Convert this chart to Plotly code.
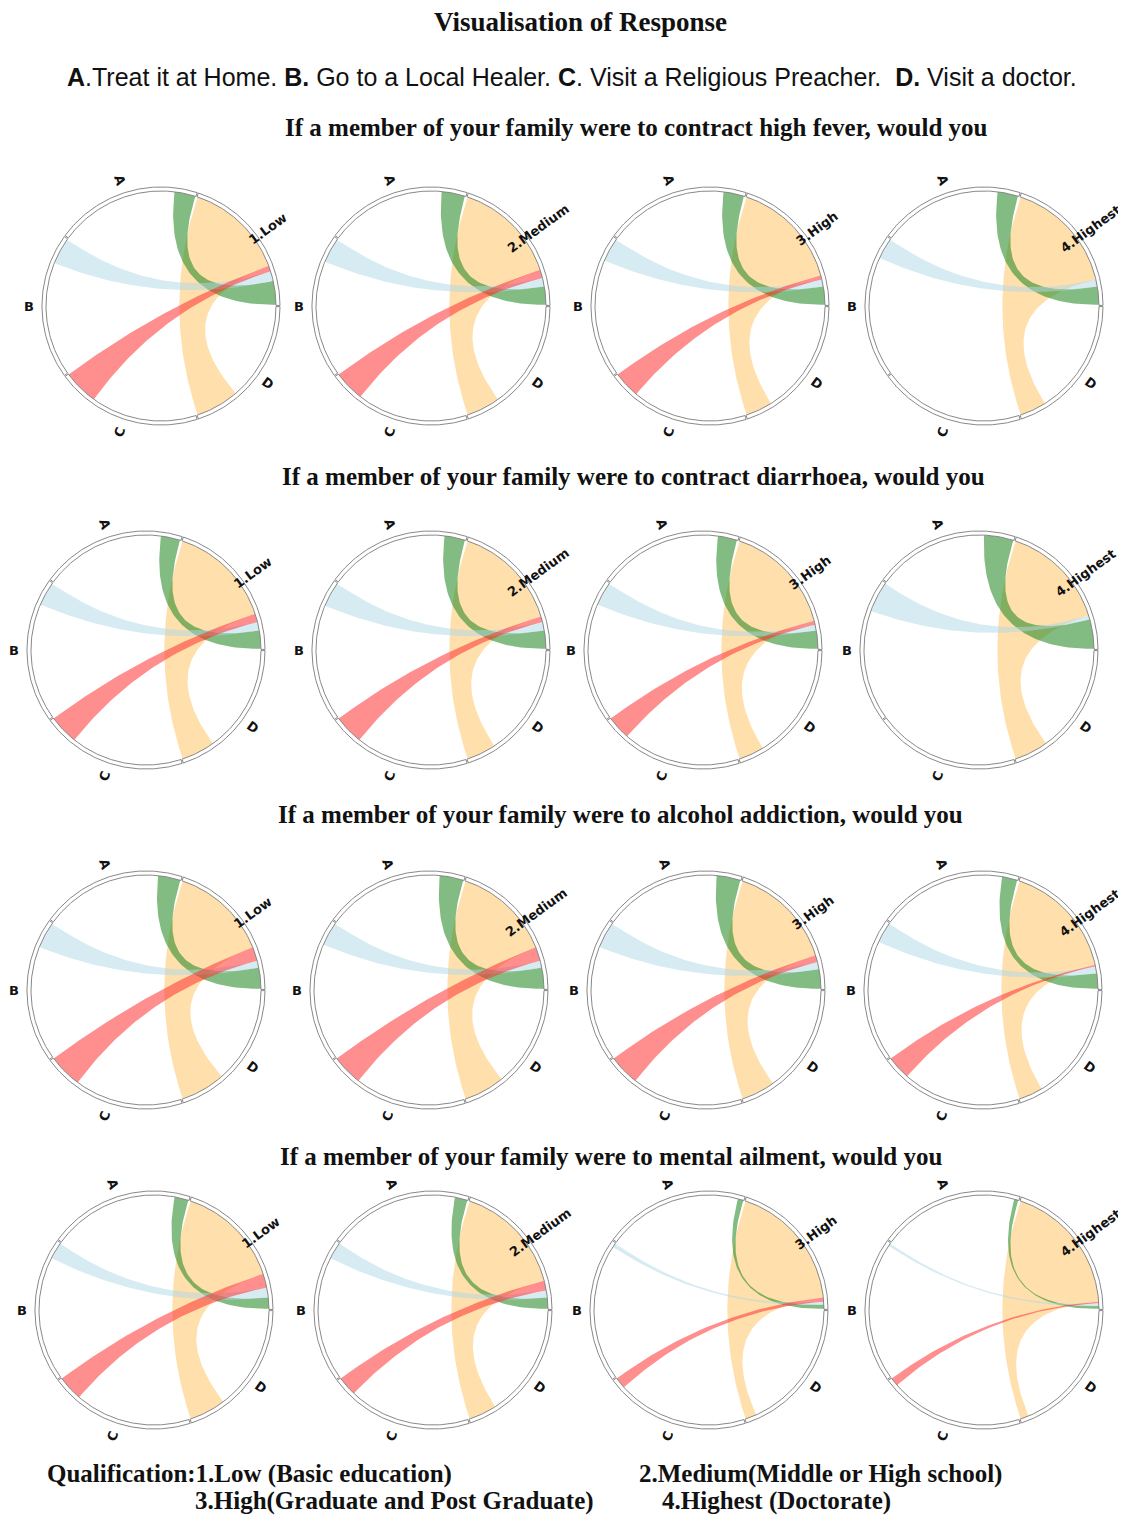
import numpy as np
import plotly.graph_objects as go

# ---------------- data ----------------
options = ["A", "B", "C", "D"]
levels = ["1.Low", "2.Medium", "3.High", "4.Highest"]
questions = [
    "If a member of your family were to contract high fever, would you",
    "If a member of your family were to contract diarrhoea, would you",
    "If a member of your family were to alcohol addiction, would you",
    "If a member of your family were to mental ailment, would you",
]

# share (%) of each qualification level's arc that goes to options A..D
fever_level_share = [[17, 7, 4, 72], [13, 6, 6, 75], [13, 5, 3, 79], [13, 5, 0, 82]]
diarrhoea_level_share = [[13, 6, 6, 75], [13, 6, 4, 77], [13, 4, 3, 80], [21, 3, 0, 76]]
alcohol_level_share = [[15, 5, 10, 70], [15, 5, 10, 70], [14, 5, 5, 76], [11, 5, 1, 83]]
mental_level_share = [[8, 7, 10, 75], [8, 5, 7, 80], [3, 2, 3, 92], [2, 2, 1, 95]]

# share (%) of each option's arc (A..D) received from the qualification level
fever_option_share = [[15, 19, 25, 31], [17, 18, 22, 24], [15, 17, 19, 19], [15, 15, 0, 19]]
diarrhoea_option_share = [[14, 17, 21, 24], [15, 18, 21, 21], [14, 17, 17, 18], [21, 22, 0, 24]]
alcohol_option_share = [[16, 19, 24, 32], [17, 17, 22, 29], [17, 19, 22, 24], [11, 15, 17, 17]]
mental_option_share = [[10, 12, 18, 26], [9, 12, 14, 20], [4, 3, 8, 8], [3, 2, 6, 6]]

level_shares = [fever_level_share, diarrhoea_level_share, alcohol_level_share, mental_level_share]
option_shares = [fever_option_share, diarrhoea_option_share, alcohol_option_share, mental_option_share]

option_colors = ["rgba(40,140,40,0.58)", "rgba(173,216,230,0.5)",
                 "rgba(255,50,50,0.55)", "rgba(255,180,60,0.42)"]

# ---------------- layout geometry (page pixels) ----------------
PAGE_W, PAGE_H = 1126, 1515
OFF = 8                      # default body margin of the html page
W, H = PAGE_W - OFF, PAGE_H - OFF
R = 115.0
row_cy = [306, 650, 990, 1310]
row_cx = [[161, 431, 710, 984], [146, 431, 703, 979], [146, 429, 706, 983], [154, 433, 709, 984]]
title_y = [128, 477, 814, 1156]
title_x = [636, 633, 620, 611]

NODE = 72.0
GAP = 0.6


def px(x):
    return (x - OFF) / W


def py(y):
    return 1 - (y - OFF) / H


def pt(a_deg, r=1.0):
    a = np.deg2rad(a_deg)
    return r * np.cos(a), r * np.sin(a)


def arc(a0, a1, r=1.0, n=40):
    a = np.deg2rad(np.linspace(a0, a1, n))
    return list(r * np.cos(a)), list(r * np.sin(a))


def bez(a0, a1, n=60):
    x0, y0 = pt(a0)
    x2, y2 = pt(a1)
    t = np.linspace(0, 1, n)
    return list((1 - t) ** 2 * x0 + t ** 2 * x2), list((1 - t) ** 2 * y0 + t ** 2 * y2)


def node_angle(node, frac):
    return node * NODE + GAP + frac * (NODE - 2 * GAP)


fig = go.Figure()
annotations = []
k = 0
for ri in range(4):
    for ci in range(4):
        k += 1
        cx, cy = row_cx[ri][ci] - OFF, row_cy[ri] - OFF
        half = 1.32 * R
        d0 = max(0.0, (cx - half) / W)
        d1 = min(1.0, (cx + half) / W)
        xr = [(d0 * W - cx) / R, (d1 * W - cx) / R]
        e0 = max(0.0, 1 - (cy + half) / H)
        e1 = min(1.0, 1 - (cy - half) / H)
        yr = [-(((1 - e0) * H) - cy) / R, -(((1 - e1) * H) - cy) / R]
        sfx = "" if k == 1 else str(k)
        fig.layout["xaxis" + sfx] = dict(domain=[d0, d1], range=xr, visible=False,
                                          fixedrange=True, anchor="y" + sfx)
        fig.layout["yaxis" + sfx] = dict(domain=[e0, e1], range=yr, visible=False,
                                          fixedrange=True, anchor="x" + sfx)
        xa, ya = "x" + sfx, "y" + sfx

        lv = level_shares[ri][ci]
        op = option_shares[ri][ci]
        cum = 0.0
        ribbons = []
        for j in range(4):
            q0 = node_angle(0, cum / 100.0)
            cum += lv[j]
            q1 = node_angle(0, cum / 100.0)
            t0 = node_angle(j + 1, 0.0)
            t1 = node_angle(j + 1, op[j] / 100.0)
            if lv[j] <= 0 and op[j] <= 0:
                continue
            xs, ys = [], []
            for seg in (arc(q0, q1), bez(q1, t0), arc(t0, t1), bez(t1, q0)):
                xs += seg[0]
                ys += seg[1]
            ribbons.append((j, xs, ys))
        for j, xs, ys in [r for r in ribbons if r[0] == 3] + [r for r in ribbons if r[0] != 3]:
            fig.add_trace(go.Scatter(x=xs, y=ys, xaxis=xa, yaxis=ya, mode="lines",
                                     fill="toself", fillcolor=option_colors[j],
                                     line=dict(width=0), hoverinfo="skip",
                                     showlegend=False))
        # ring segments
        for nd in range(5):
            a0, a1 = nd * NODE + GAP * 0.5, (nd + 1) * NODE - GAP * 0.5
            ox, oy = arc(a0, a1, 1.0, 80)
            ix, iy = arc(a1, a0, 1.035, 80)
            fig.add_trace(go.Scatter(x=ox + ix + [ox[0]], y=oy + iy + [oy[0]],
                                     xaxis=xa, yaxis=ya, mode="lines", fill="toself",
                                     fillcolor="rgba(255,255,255,0.9)",
                                     line=dict(color="#7a7a7a", width=0.9),
                                     hoverinfo="skip", showlegend=False))
        # labels
        names = [levels[ci]] + options
        for nd in range(5):
            amid = nd * NODE + NODE / 2
            lx, ly = pt(amid, 1.15)
            rot = amid - 180 if 90 < amid < 270 else amid
            annotations.append(dict(x=lx, y=ly, xref=xa, yref=ya, text="<b>%s</b>" % names[nd],
                                    showarrow=False, textangle=-rot,
                                    xanchor="center", yanchor="middle",
                                    font=dict(family="DejaVu Sans", size=13, color="#111")))

    annotations.append(dict(x=px(title_x[ri]), y=py(title_y[ri]), xref="paper", yref="paper",
                            text="<b>%s</b>" % questions[ri], showarrow=False,
                            xanchor="center", yanchor="middle",
                            font=dict(family="Liberation Serif", size=25, color="#111")))

bottom = dict(xref="paper", yref="paper", showarrow=False, xanchor="left", yanchor="middle")
annotations += [
    dict(x=px(580), y=py(22), xref="paper", yref="paper", showarrow=False,
         xanchor="center", yanchor="middle",
         text="<b>Visualisation of Response</b>",
         font=dict(family="Liberation Serif", size=27, color="#111")),
    dict(x=px(572), y=py(77), xref="paper", yref="paper", showarrow=False,
         xanchor="center", yanchor="middle",
         text="<b>A</b>.Treat it at Home. <b>B.</b> Go to a Local Healer. <b>C</b>. Visit a Religious Preacher.  <b>D.</b> Visit a doctor.",
         font=dict(family="Liberation Sans", size=25, color="#111")),
    dict(x=px(45), y=py(1474), text="<b>Qualification:1.Low (Basic education)</b>",
         font=dict(family="Liberation Serif", size=25, color="#111"), **bottom),
    dict(x=px(637), y=py(1474), text="<b>2.Medium(Middle or High school)</b>",
         font=dict(family="Liberation Serif", size=25, color="#111"), **bottom),
    dict(x=px(193), y=py(1501), text="<b>3.High(Graduate and Post Graduate)</b>",
         font=dict(family="Liberation Serif", size=25, color="#111"), **bottom),
    dict(x=px(660), y=py(1501), text="<b>4.Highest (Doctorate)</b>",
         font=dict(family="Liberation Serif", size=25, color="#111"), **bottom),
]

fig.update_layout(width=W, height=H, margin=dict(l=0, r=0, t=0, b=0),
                  paper_bgcolor="white", plot_bgcolor="rgba(0,0,0,0)",
                  annotations=annotations, showlegend=False)
fig.write_html("out.html")
